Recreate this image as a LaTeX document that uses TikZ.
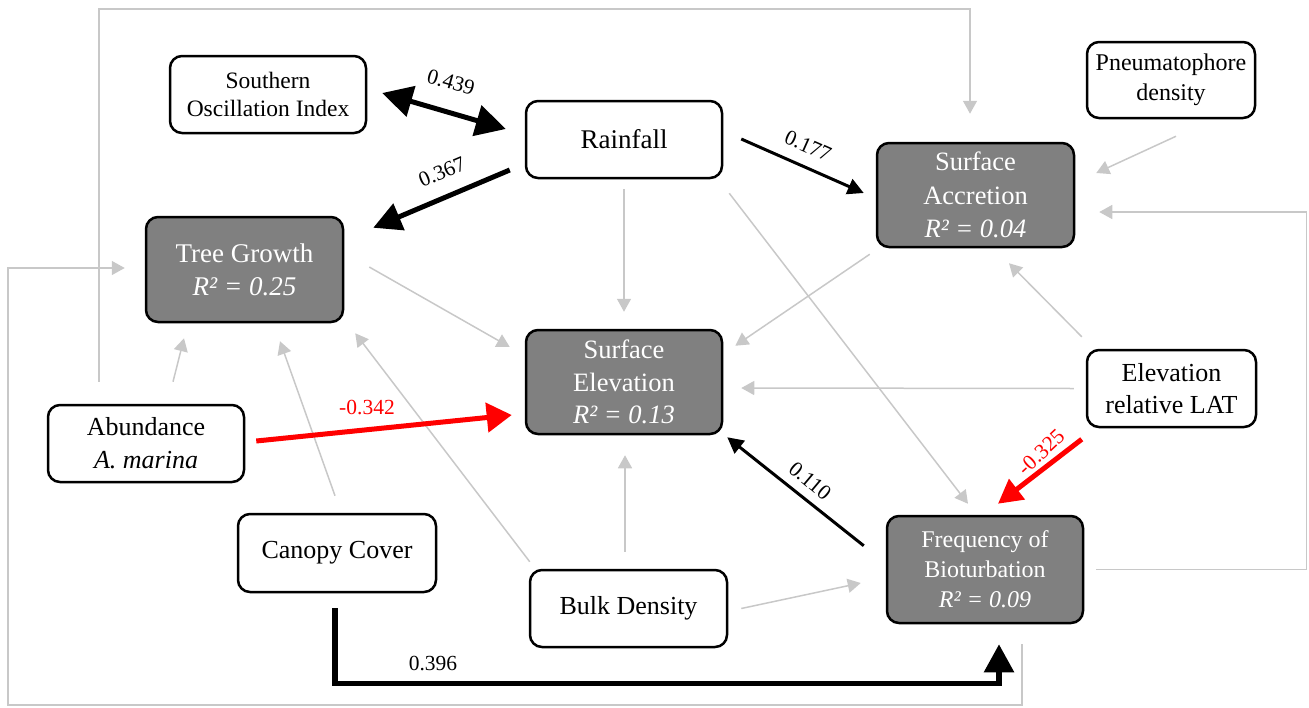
\documentclass[tikz,border=0pt]{standalone}
\usepackage{fontspec}
\setmainfont{Liberation Serif}
\usetikzlibrary{arrows.meta}
\definecolor{lg}{RGB}{200,200,200}
\definecolor{bx}{RGB}{128,128,128}
\definecolor{rd}{RGB}{255,0,0}
\tikzset{
  wbox/.style={draw=black, line width=2.5pt, rounded corners=12pt, fill=white, align=center, inner sep=0pt,
     minimum width=196pt, minimum height=77pt, font=\fontsize{26}{33}\selectfont},
  gbox/.style={wbox, fill=bx, text=white, minimum height=105pt},
  gl/.style={draw=lg, line width=1.5pt, -{Triangle[length=13pt,width=14pt]}},
  bkthin/.style={draw=black, line width=3pt, -{Triangle[length=16pt,width=16pt]}},
  bkthick/.style={draw=black, line width=5.5pt, -{Triangle[length=28pt,width=29pt]}},
  rdthick/.style={draw=rd, line width=5pt, -{Triangle[length=25pt,width=29pt]}},
  lbl/.style={font=\fontsize{21.5}{24}\selectfont, inner sep=0pt},
}
\begin{document}
\begin{tikzpicture}[x=1pt,y=-1pt]
\useasboundingbox (0,0) rectangle (1309,707);
% nodes
\node[wbox, font=\fontsize{23.5}{28}\selectfont] (soi) at (268,94.5) {Southern\\Oscillation Index};
\node[wbox, font=\fontsize{27}{33}\selectfont] (rain) at (624,139.5) {Rainfall};
\node[wbox, minimum width=168pt, minimum height=76pt, font=\fontsize{24}{30}\selectfont] (pneu) at (1171,80) {Pneumatophore\\density};
\node[gbox, minimum width=197pt, minimum height=104pt, font=\fontsize{26.5}{33.5}\selectfont] (acc) at (975.5,195) {Surface\\Accretion\\\textit{R² = 0.04}};
\node[gbox, minimum width=197pt, font=\fontsize{27}{33}\selectfont] (tree) at (244.5,269.5) {Tree Growth\\\textit{R² = 0.25}};
\node[gbox, minimum height=104pt, font=\fontsize{26.5}{32.5}\selectfont] (elev) at (624,382) {Surface\\Elevation\\\textit{R² = 0.13}};
\node[wbox, minimum width=169pt, font=\fontsize{26}{32}\selectfont] (lat) at (1171.5,388.5) {Elevation\\relative LAT};
\node[wbox, font=\fontsize{26}{33}\selectfont] (abund) at (146,443.5) {Abundance\\\textit{A. marina}};
\node[wbox, minimum width=198pt, minimum height=78pt] (canopy) at (337,553) {Canopy Cover};
\node[wbox, minimum width=197pt] (bulk) at (628.5,608.5) {Bulk Density};
\node[gbox, minimum height=107pt, font=\fontsize{24}{30}\selectfont] (biot) at (985,569.5) {Frequency of\\Bioturbation\\\textit{R² = 0.09}};
% gray connectors
\draw[gl] ([shift={(5,17)}]pneu.south) -- ([shift={(21,-22)}]acc.east);
\draw[gl] ([shift={(-6,6)}]acc.south west) -- ([shift={(12,17)}]elev.north east);
\draw[gl] ([shift={(0,10)}]rain.south) -- ([shift={(0,-17)}]elev.north);
\draw[gl] ([shift={(6,14)}]rain.south east) -- ([shift={(-17,-11)}]biot.north);
\draw[gl] ([shift={(25,-2.5)}]tree.east) -- ([shift={(-15,-35)}]elev.west);
\draw[gl] ([shift={(27,-22)}]abund.north) -- ([shift={(-60.5,15)}]tree.south);
\draw[gl] ([shift={(-2,-17)}]canopy.north) -- ([shift={(35.5,18)}]tree.south);
\draw[gl] ([shift={(1,-7)}]bulk.north west) -- ([shift={(11,10)}]tree.south east);
\draw[gl] ([shift={(-3.5,-17)}]bulk.north) -- ([shift={(1,20)}]elev.south);
\draw[gl] ([shift={(13,0)}]bulk.east) -- ([shift={(-25,13.5)}]biot.west);
\draw[gl] ([shift={(-12,0)}]lat.west) -- ([shift={(18,6)}]elev.east);
\draw[gl] ([shift={(-4,-12)}]lat.north west) -- ([shift={(33.5,15)}]acc.south);
\draw[gl] ([shift={(12,0)}]biot.east) -- ++(210,0) |- ([shift={(24,17)}]acc.east);
\draw[gl] ([shift={(37,20)}]biot.south) |- (8,705) |- ([shift={(-20,-1.5)}]tree.west);
\draw[gl] ([shift={(-47,-22)}]abund.north) |- (970,9) -- ([shift={(-5.5,-28)}]acc.north);
% black connectors
\draw[draw=black, line width=5pt, {Triangle[length=30pt,width=31pt]}-{Triangle[length=30pt,width=31pt]}]
  ([shift={(15,-1.5)}]soi.east) -- ([shift={(-19,-10.5)}]rain.west);
\node[lbl, rotate=-16] (l439) at (451,82) {0.439};
\draw[draw=black, line width=5pt, -{Triangle[length=28pt,width=28pt]}]
  ([shift={(-15,30.5)}]rain.west) -- ([shift={(29,12)}]tree.north east);
\node[lbl, rotate=23] (l367) at (442,172) {0.367};
\draw[bkthin] ([shift={(18,-0.5)}]rain.east) -- ([shift={(-12,-2)}]acc.west);
\node[lbl, rotate=-24] (l177) at (808,146) {0.177};
\draw[bkthin] ([shift={(-22,31)}]biot.north west) -- ([shift={(4,2)}]elev.south east);
\node[lbl, rotate=-40] (l110) at (810,481) {0.110};
\draw[bkthick, line join=miter] ([shift={(-2,15)}]canopy.south) |- ([shift={(14,59)}]biot.south) -- ([shift={(14,20)}]biot.south);
\node[lbl] (l396) at (433,663) {0.396};
% red connectors
\draw[rdthick] ([shift={(11,-2.5)}]abund.east) -- ([shift={(-13,33)}]elev.west);
\node[lbl, text=rd] (l342) at (367,407) {-0.342};
\draw[rdthick, -{Triangle[length=24pt,width=25pt]}] ([shift={(-4,11)}]lat.south west) -- ([shift={(13,-11)}]biot.north);
\node[lbl, text=rd, rotate=43] (l325) at (1041,452) {-0.325};
\end{tikzpicture}
\end{document}
